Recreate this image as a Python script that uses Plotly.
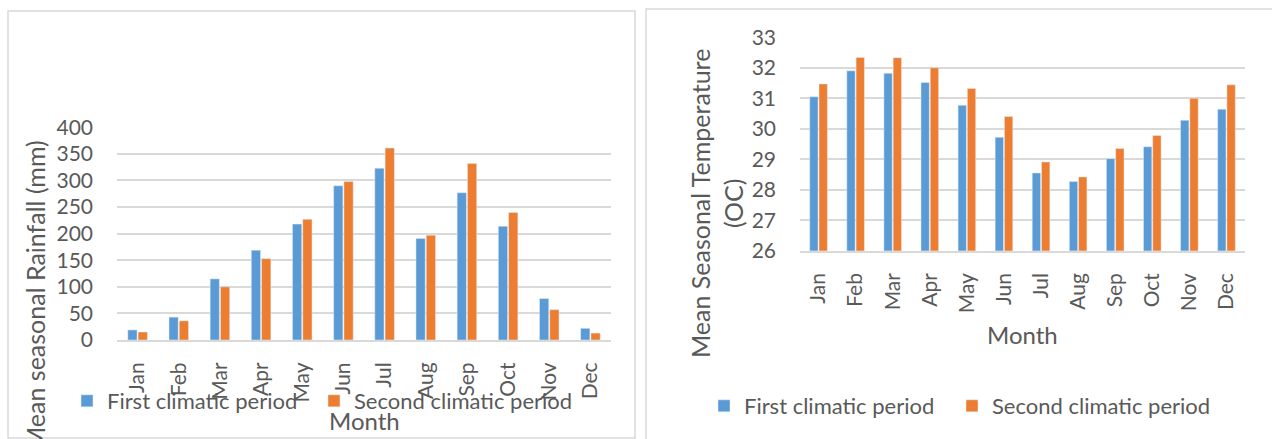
import plotly.graph_objects as go

months = ["Jan", "Feb", "Mar", "Apr", "May", "Jun", "Jul", "Aug", "Sep", "Oct", "Nov", "Dec"]

# Mean seasonal rainfall (mm)
rain_first = [19, 43, 115, 169, 218, 290, 323, 191, 277, 214, 78, 22]
rain_second = [15, 36, 100, 153, 227, 298, 361, 197, 332, 240, 57, 13]

# Mean seasonal temperature (OC)
temp_first = [31.05, 31.90, 31.82, 31.52, 30.77, 29.72, 28.55, 28.27, 29.02, 29.41, 30.28, 30.64]
temp_second = [31.47, 32.34, 32.33, 32.00, 31.32, 30.40, 28.91, 28.42, 29.35, 29.78, 31.00, 31.44]

series_names = ["First climatic period", "Second climatic period"]
BLUE = "#5B9BD5"
ORANGE = "#ED7D31"
GRID = "#D9D9D9"
TEXT = "#595959"
FONT = "Lato"

W, H = 1272, 439


def px(x):
    return x / W


def py(y):
    return 1 - y / H


fig = go.Figure()

# one legend box per entry so each key can sit where it belongs
fig.add_trace(go.Bar(x=months, y=rain_first, name=series_names[0], marker_color=BLUE,
                     xaxis="x", yaxis="y", legend="legend"))
fig.add_trace(go.Bar(x=months, y=rain_second, name=series_names[1], marker_color=ORANGE,
                     xaxis="x", yaxis="y", legend="legend2"))
fig.add_trace(go.Bar(x=months, y=temp_first, name=series_names[0], marker_color=BLUE,
                     xaxis="x2", yaxis="y2", legend="legend3"))
fig.add_trace(go.Bar(x=months, y=temp_second, name=series_names[1], marker_color=ORANGE,
                     xaxis="x2", yaxis="y2", legend="legend4"))

tickfont = dict(family=FONT, size=21, color=TEXT)

xcommon = dict(type="category", tickangle=-90, tickfont=tickfont, showgrid=False,
               showline=True, linecolor=GRID, linewidth=2, ticks="", ticklabelstandoff=12,
               automargin=False)
ycommon = dict(tickfont=tickfont, showgrid=True, gridcolor=GRID, gridwidth=2,
               showline=False, zeroline=False, ticks="", ticklabelstandoff=23,
               automargin=False)


def legend_at(x, y):
    return dict(orientation="h", x=px(x), y=py(y), xanchor="left", yanchor="middle",
                font=dict(family=FONT, size=22, color=TEXT), itemwidth=30,
                bgcolor="rgba(0,0,0,0)")


fig.update_layout(
    width=W, height=H,
    margin=dict(l=0, r=0, t=0, b=0, pad=0, autoexpand=False),
    paper_bgcolor="white", plot_bgcolor="white",
    barmode="group", bargap=0.5, bargroupgap=0.1,
    font=dict(family=FONT, color=TEXT),
    xaxis=dict(domain=[px(117), px(611)], anchor="y", **xcommon),
    yaxis=dict(domain=[py(340), py(127.3)], anchor="x", range=[0, 400], dtick=50, **ycommon),
    xaxis2=dict(domain=[px(800), px(1245)], anchor="y2", **xcommon),
    yaxis2=dict(domain=[py(250.7), py(37.3)], anchor="x2", range=[26, 33], dtick=1, **ycommon),
    legend=legend_at(67, 401),
    legend2=legend_at(314, 401),
    legend3=legend_at(704, 406),
    legend4=legend_at(952, 406),
    showlegend=True,
)

# Chart frames
fig.add_shape(type="rect", xref="paper", yref="paper",
              x0=px(8), x1=px(635), y0=py(438), y1=py(11),
              line=dict(color=GRID, width=1.5), layer="below")
fig.add_shape(type="rect", xref="paper", yref="paper",
              x0=px(646), x1=px(1290), y0=py(460), y1=py(9),
              line=dict(color=GRID, width=1.5), layer="below")

# Axis titles
fig.add_annotation(xref="paper", yref="paper", x=px(35), y=py(138), xanchor="center", yanchor="top",
                   text="Mean seasonal Rainfall (mm)", textangle=-90, showarrow=False,
                   font=dict(family=FONT, size=25, color=TEXT))
fig.add_annotation(xref="paper", yref="paper", x=px(364), y=py(420), xanchor="center", yanchor="middle",
                   text="Month", showarrow=False, font=dict(family=FONT, size=24, color=TEXT))
fig.add_annotation(xref="paper", yref="paper", x=px(716), y=py(204), xanchor="center", yanchor="middle",
                   text="Mean Seasonal Temperature<br>(OC)", textangle=-90, showarrow=False,
                   font=dict(family=FONT, size=25, color=TEXT))
fig.add_annotation(xref="paper", yref="paper", x=px(1022), y=py(334), xanchor="center", yanchor="middle",
                   text="Month", showarrow=False, font=dict(family=FONT, size=24, color=TEXT))

fig.write_html("out.html")
